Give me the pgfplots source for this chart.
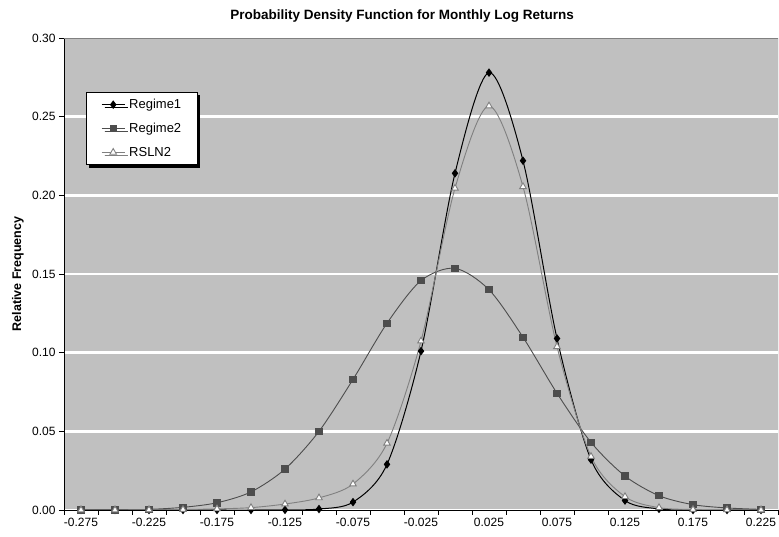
\documentclass[border=0pt]{standalone}
\usepackage{fontspec}
\setmainfont{Liberation Sans}
\usepackage{pgfplots}
\pgfplotsset{compat=1.18}
\usetikzlibrary{shadows}
\definecolor{plotgray}{RGB}{192,192,192}
\definecolor{regtwo}{RGB}{77,77,77}
\definecolor{rslngray}{RGB}{128,128,128}

% index 0..20 = log return -0.275 .. 0.225 step 0.025
\pgfplotstableread{
i   r1      r2      rs
0   0       0       0
1   0       0.0001  0
2   0       0.0004  0.0001
3   0       0.0017  0.0003
4   0       0.0046  0.0007
5   0       0.0115  0.0015
6   0.0001  0.0260  0.0038
7   0.0006  0.0500  0.0077
8   0.0050  0.0830  0.0165
9   0.0290  0.1187  0.0424
10  0.1010  0.1458  0.1074
11  0.2140  0.1536  0.2045
12  0.2780  0.1400  0.2568
13  0.2220  0.1098  0.2055
14  0.1090  0.0742  0.1038
15  0.0320  0.0430  0.0340
16  0.0060  0.0216  0.0085
17  0.0007  0.0091  0.0015
18  0       0.0034  0.0003
19  0       0.0013  0.0001
20  0       0.0004  0
}\pdfdata

\begin{document}
\begin{tikzpicture}[x=1pt,y=1pt]
\useasboundingbox (-64,-27) rectangle (715,510);
\begin{axis}[
    scale only axis,
    width=714pt, height=472pt,
    xmin=-0.5, xmax=20.5, ymin=0, ymax=0.30,
    axis x line*=bottom, axis y line*=left,
    axis line style={black, line width=0.8pt},
    axis background/.style={fill=plotgray},
    tick align=outside, major tick length=5pt,
    tick style={black, line width=0.8pt},
    xtick={-0.5,0.5,...,20.5}, xticklabels={},
    extra x ticks={0,2,...,20},
    extra x tick labels={-0.275,-0.225,-0.175,-0.125,-0.075,-0.025,0.025,0.075,0.125,0.175,0.225},
    extra x tick style={tick style={draw=none}},
    ytick={0,0.05,0.1,0.15,0.2,0.25,0.3},
    yticklabel style={/pgf/number format/.cd, fixed, fixed zerofill, precision=2, assume math mode=true},
    ticklabel style={font=\fontsize{12}{14}\selectfont},
    ymajorgrids, grid style={white, line width=2.5pt},
    legend cell align=left,
    legend style={at={(22/714,418/472)}, anchor=north west, draw=black, fill=white,
        font=\fontsize{13}{15}\selectfont, row sep=11pt, inner xsep=15pt, inner ysep=6pt,
        nodes={inner sep=1pt},
        /tikz/every odd column/.append style={column sep=3pt},
        drop shadow={shadow xshift=3pt, shadow yshift=-3pt, fill=black, opacity=1}},
    legend image code/.code={\draw[mark repeat=2,mark phase=2] plot coordinates {(0pt,0pt)(11.5pt,0pt)(23pt,0pt)};},
]
\addplot[black, line width=1pt, smooth, mark=diamond*, mark size=3.5pt, mark options={fill=black, solid}] table[x=i, y=r1] {\pdfdata};
\addlegendentry{Regime1}
\addplot[regtwo, line width=0.9pt, smooth, mark=square*, mark size=3.2pt, mark options={fill=regtwo, solid}] table[x=i, y=r2] {\pdfdata};
\addlegendentry{Regime2}
\addplot[rslngray, line width=0.9pt, smooth, mark=triangle*, mark size=3.8pt, mark options={fill=white, draw=rslngray, solid}] table[x=i, y=rs] {\pdfdata};
\addlegendentry{RSLN2}
\draw[rslngray, line width=0.8pt] (rel axis cs:0,1) -- (rel axis cs:1,1) -- (rel axis cs:1,0);
\end{axis}
\node[font=\bfseries\fontsize{13.5}{16}\selectfont] at (338,494) {Probability Density Function for Monthly Log Returns};
\node[font=\bfseries\fontsize{12.5}{14}\selectfont, rotate=90] at (-46,236) {Relative Frequency};
\end{tikzpicture}
\end{document}
